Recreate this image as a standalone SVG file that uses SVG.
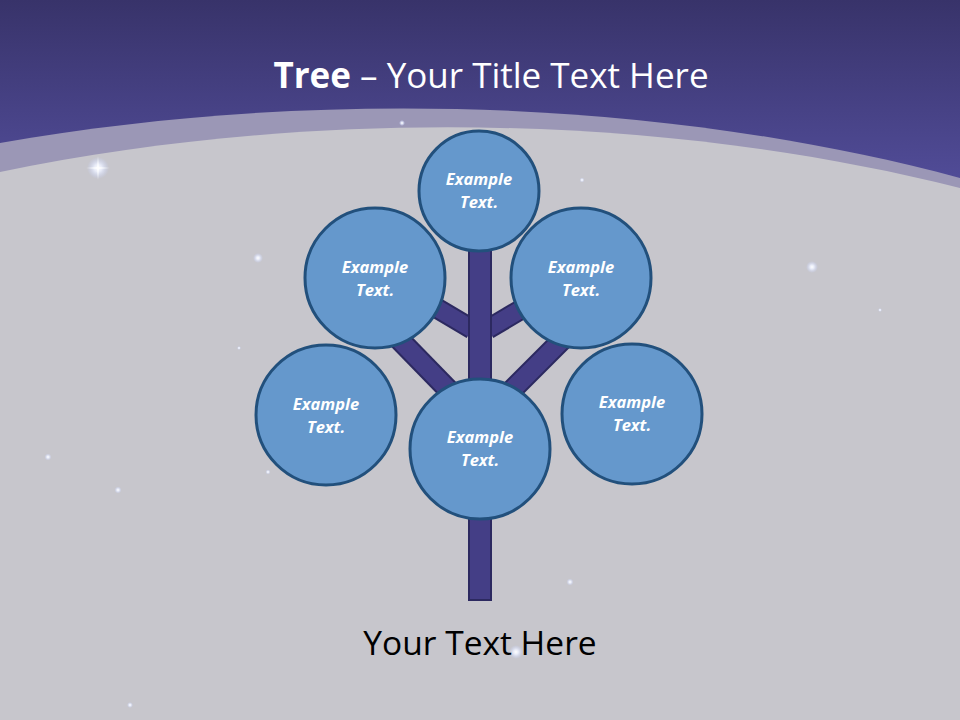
<svg xmlns="http://www.w3.org/2000/svg" width="960" height="720" viewBox="0 0 960 720">
  <defs>
    <linearGradient id="sky" gradientUnits="userSpaceOnUse" x1="0" y1="0" x2="0" y2="190">
      <stop offset="0" stop-color="#38336a"/>
      <stop offset="1" stop-color="#524d9a"/>
    </linearGradient>
    <radialGradient id="star">
      <stop offset="0" stop-color="#ffffff" stop-opacity="1"/>
      <stop offset="0.35" stop-color="#eef2ff" stop-opacity="0.85"/>
      <stop offset="1" stop-color="#c8d4ff" stop-opacity="0"/>
    </radialGradient>
    <style>
      .node circle { fill: #6598cc; stroke: #22507c; stroke-width: 3; }
      .node text { font-family: "Open Sans", "Liberation Sans", sans-serif; font-size: 16.5px; font-weight: bold; font-style: italic; fill: #ffffff; text-anchor: middle; }
      .bar { fill: #443e86; stroke: #2c2960; stroke-width: 2; }
      .title { font-family: "Open Sans", "Liberation Sans", sans-serif; font-size: 35px; fill: #ffffff; }
      .sub { font-family: "Open Sans", "Liberation Sans", sans-serif; font-size: 33.5px; fill: #000000; }
    </style>
  </defs>

  <!-- background -->
  <rect x="0" y="0" width="960" height="720" fill="url(#sky)"/>
  <path d="M0,143 C300,90 650,95 960,178 L960,720 L0,720 Z" fill="#9b97b6"/>
  <path d="M0,172 C300,110 650,110 960,188 L960,720 L0,720 Z" fill="#c7c6cc"/>

  <!-- stars -->
  <g id="stars">
    <circle cx="98" cy="168" r="11" fill="url(#star)"/>
    <path d="M98,156 L99,167 L110,168 L99,169 L98,180 L97,169 L86,168 L97,167 Z" fill="#ffffff" opacity="0.7"/>
    <circle cx="812" cy="267" r="6" fill="url(#star)"/>
    <circle cx="258" cy="258" r="5" fill="url(#star)"/>
    <circle cx="48" cy="457" r="3.5" fill="url(#star)"/>
    <circle cx="118" cy="490" r="3.5" fill="url(#star)"/>
    <circle cx="570" cy="582" r="3.5" fill="url(#star)"/>
    <circle cx="516" cy="652" r="7" fill="url(#star)"/>
    <circle cx="402" cy="123" r="3" fill="url(#star)"/>
    <circle cx="582" cy="180" r="2.5" fill="url(#star)"/>
    <circle cx="130" cy="705" r="3" fill="url(#star)"/>
    <circle cx="880" cy="310" r="2" fill="url(#star)"/>
    <circle cx="268" cy="472" r="2.5" fill="url(#star)"/>
    <circle cx="239" cy="348" r="2" fill="url(#star)"/>
  </g>

  <!-- title -->
  <text class="title" x="491" y="88" text-anchor="middle"><tspan font-weight="bold">Tree</tspan> – Your Title Text Here</text>

  <!-- connectors (tree trunk and branches) -->
  <g id="connectors">
    <line x1="470" y1="412" x2="392" y2="332" stroke="#2c2960" stroke-width="22"/>
    <line x1="470" y1="412" x2="392" y2="332" stroke="#443e86" stroke-width="18"/>
    <line x1="490" y1="412" x2="570" y2="332" stroke="#2c2960" stroke-width="22"/>
    <line x1="490" y1="412" x2="570" y2="332" stroke="#443e86" stroke-width="18"/>
    <line x1="472" y1="329" x2="418" y2="297" stroke="#2c2960" stroke-width="21"/>
    <line x1="472" y1="329" x2="418" y2="297" stroke="#443e86" stroke-width="17"/>
    <line x1="488" y1="329" x2="542" y2="297" stroke="#2c2960" stroke-width="21"/>
    <line x1="488" y1="329" x2="542" y2="297" stroke="#443e86" stroke-width="17"/>
    <rect class="bar" x="469" y="240" width="22" height="360"/>
  </g>

  <!-- nodes -->
  <g id="node-top" class="node">
    <circle cx="479" cy="191" r="60"/>
    <text x="479" y="185">Example</text>
    <text x="479" y="208">Text.</text>
  </g>
  <g id="node-upper-left" class="node">
    <circle cx="375" cy="278" r="70"/>
    <text x="375" y="273">Example</text>
    <text x="375" y="296">Text.</text>
  </g>
  <g id="node-upper-right" class="node">
    <circle cx="581" cy="278" r="70"/>
    <text x="581" y="273">Example</text>
    <text x="581" y="296">Text.</text>
  </g>
  <g id="node-lower-left" class="node">
    <circle cx="326" cy="415" r="70"/>
    <text x="326" y="410">Example</text>
    <text x="326" y="433">Text.</text>
  </g>
  <g id="node-bottom" class="node">
    <circle cx="480" cy="449" r="70"/>
    <text x="480" y="443">Example</text>
    <text x="480" y="466">Text.</text>
  </g>
  <g id="node-lower-right" class="node">
    <circle cx="632" cy="414" r="70"/>
    <text x="632" y="408">Example</text>
    <text x="632" y="431">Text.</text>
  </g>

  <!-- bottom text -->
  <text class="sub" x="480" y="655" text-anchor="middle">Your Text Here</text>
</svg>
